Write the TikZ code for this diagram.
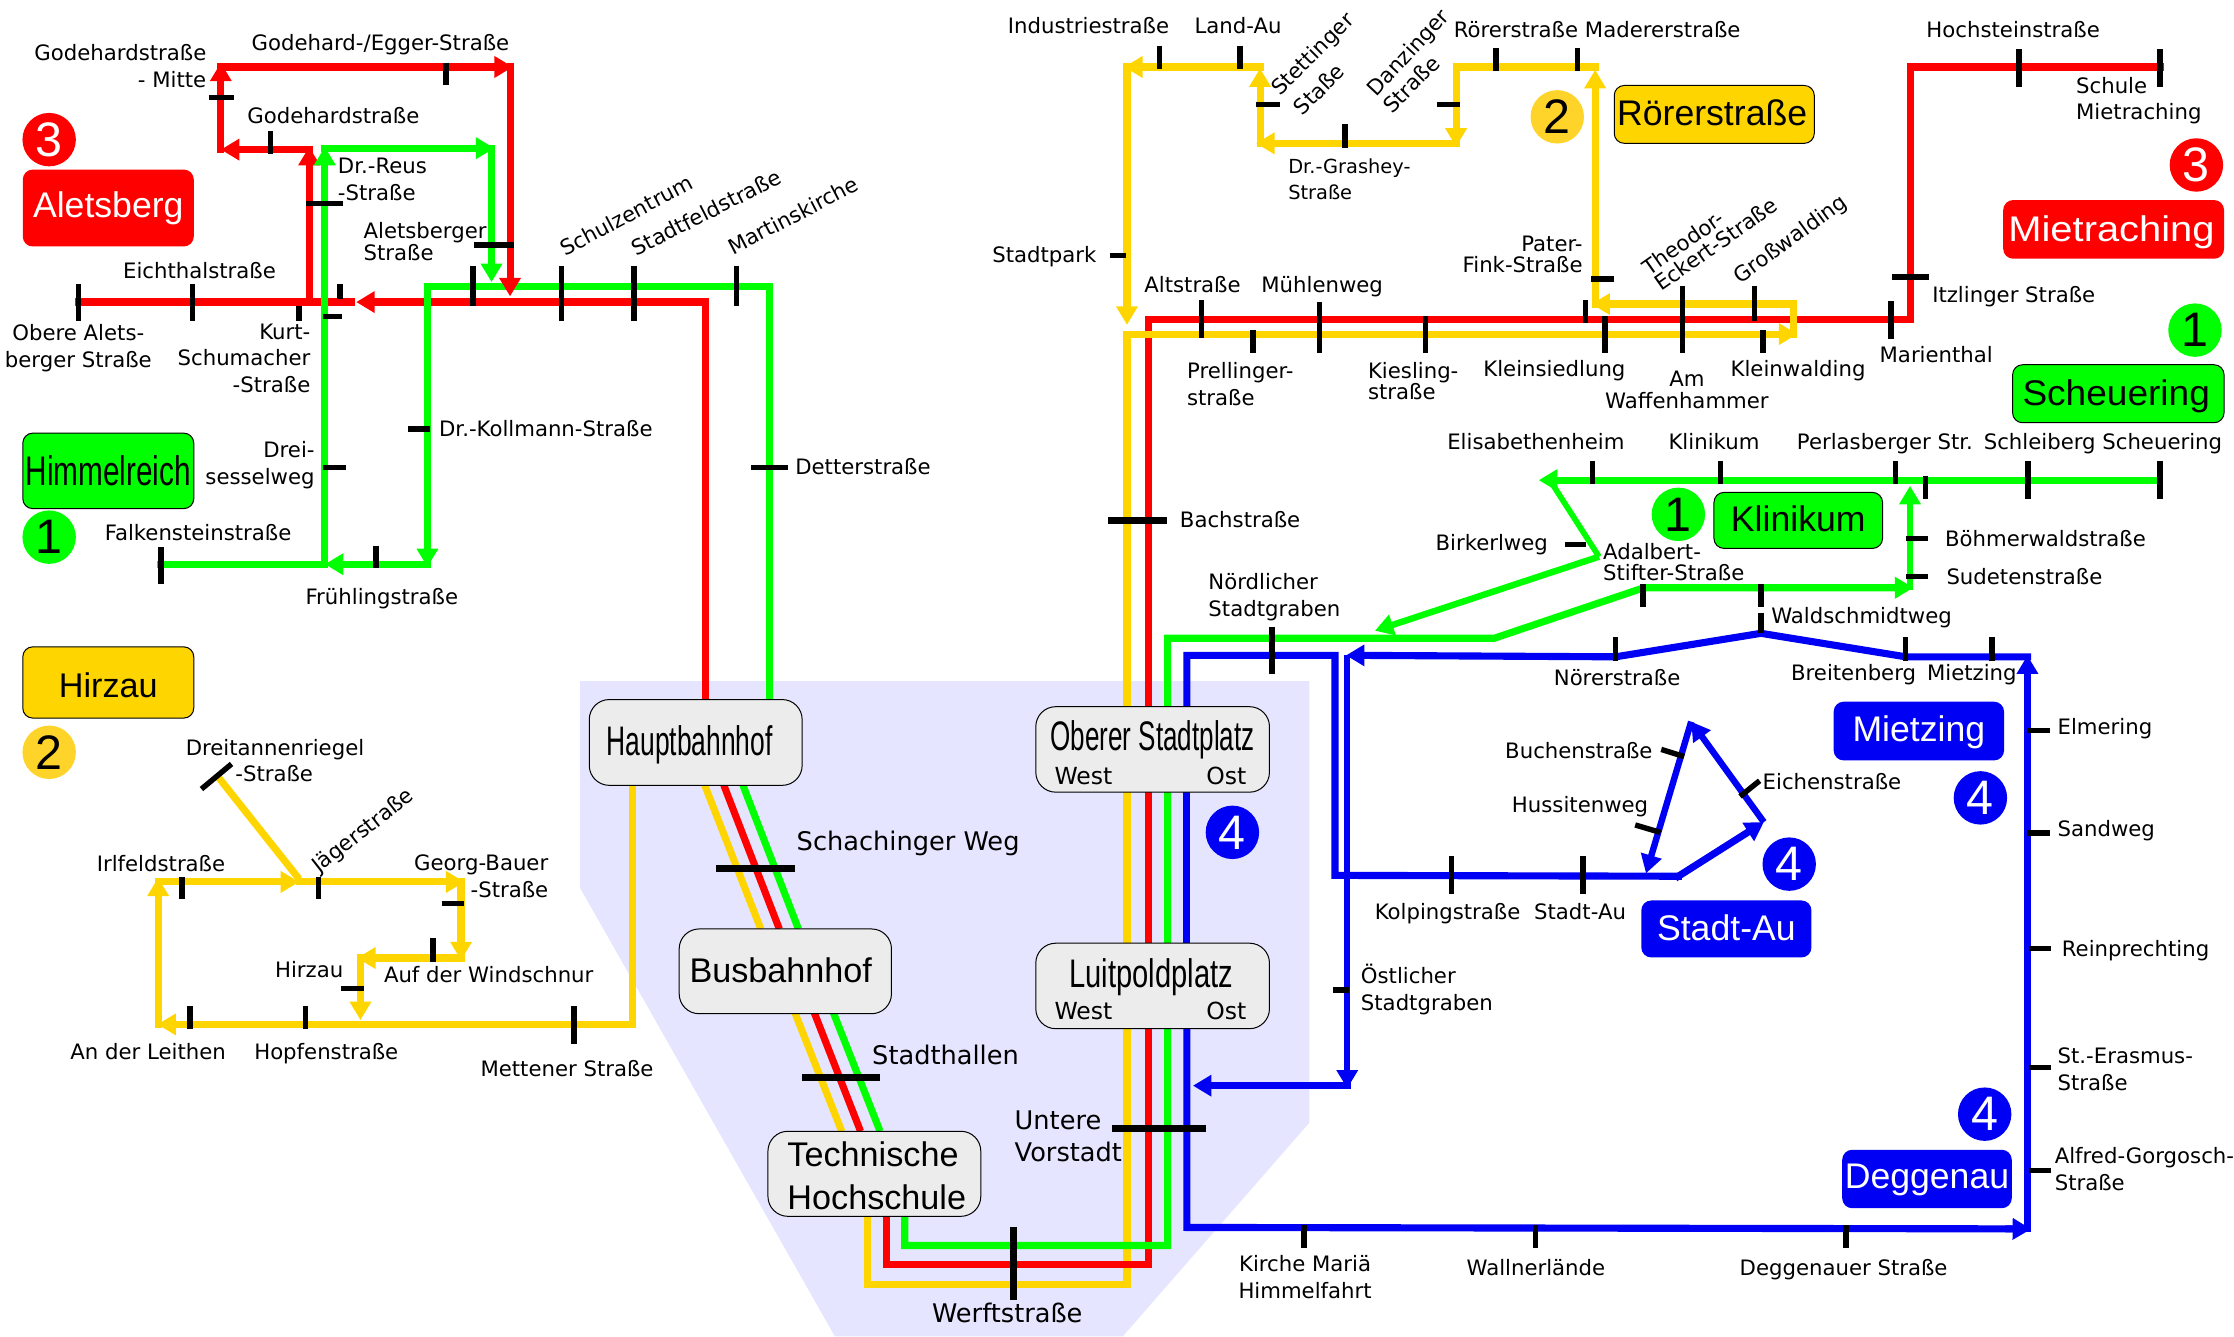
\documentclass[tikz,border=0pt]{standalone}
\usepackage{fontspec}
\usepackage{graphicx}
\setmainfont{DejaVu Sans}
\newfontfamily\boxf{Liberation Sans}
\usetikzlibrary{arrows.meta}
\definecolor{lred}{HTML}{FF0000}
\definecolor{lgreen}{HTML}{00FF00}
\definecolor{lyellow}{HTML}{FFD500}
\definecolor{lblue}{HTML}{0000F5}
\definecolor{cyellow}{HTML}{FFD42A}
\definecolor{lav}{HTML}{E5E5FF}
\definecolor{stat}{HTML}{ECECEC}
\newcommand{\fs}[1]{\fontsize{#1}{#1}\selectfont}
\newcommand{\bl}[2]{\raisebox{-#1pt}[0pt][0pt]{#2}}
\tikzset{
  rt/.style={line width=5pt,line cap=rect,line join=miter},
  ah/.style={-{Triangle[length=13pt,width=14.5pt]}},
  tk/.style={line width=3.8pt,black},
  tkb/.style={line width=4.5pt,black},
  lbl/.style={font=\fontsize{14.9}{18.6}\selectfont,inner sep=0pt,anchor=mid,text=black,yshift=-2.6pt},
  lbll/.style={lbl,anchor=mid west},
  lblr/.style={lbl,anchor=mid east},
  ml/.style={font=\fontsize{14.9}{18.6}\selectfont,inner sep=0pt,align=left,anchor=west},
  mr/.style={font=\fontsize{14.9}{18.6}\selectfont,inner sep=0pt,align=right,anchor=east},
  mc/.style={font=\fontsize{14.9}{18.6}\selectfont,inner sep=0pt,align=center,anchor=center},
  tight/.style={font=\fontsize{14.9}{15.2}\selectfont},
  bxs/.style={rectangle,rounded corners=7pt,inner sep=0pt,line width=.7pt,font=\boxf\fs{25}},
  sts/.style={bxs,rounded corners=14pt,draw=black,fill=stat},
  num/.style={circle,minimum size=37.5pt,inner sep=0pt,font=\boxf\fs{34}},
  big/.style={font=\fontsize{18}{23}\selectfont,inner sep=0pt,anchor=mid west,yshift=-3.5pt},
  wo/.style={font=\fontsize{16.5}{23}\selectfont,inner sep=0pt,anchor=mid west,yshift=-3pt},
}
\newcommand{\bxn}[7]{\pgfmathsetmacro\cxx{(#2+#4)/2}\pgfmathsetmacro\cyy{(#3+#5)/2}\pgfmathsetmacro\www{#4-#2}\pgfmathsetmacro\hhh{#5-#3}\node[bxs,#6,minimum width=\www pt,minimum height=\hhh pt] (#1) at (\cxx,\cyy) {#7};}
\begin{document}
\begin{tikzpicture}[x=1pt,y=-1pt]
\useasboundingbox (0,0) rectangle (1568,938);
\fill[lav] (407,478) -- (919,478) -- (919,788) -- (788,938) -- (586,938) -- (407,623) -- cycle;

% ---------- route 3, west
\draw[rt,lred] (495,491) -- (495,212) -- (262,212);
\draw[rt,lred,ah] (262,212) -- (250,212);
\draw[rt,lred] (55,212) -- (247,212);
\draw[rt,lred,ah] (217,212) -- (217,103);
\draw[rt,lred,ah] (217,105) -- (155,105);
\draw[rt,lred,ah] (155,105) -- (155,44);
\draw[rt,lred,ah] (155,47) -- (360,47);
% ---------- route 1, west
\draw[rt,lgreen] (540,491) -- (540,201) -- (300,201) -- (300,385);
\draw[rt,lgreen,ah] (300,380) -- (300,398);
\draw[rt,lgreen,ah] (300,396) -- (228,396);
\draw[rt,lgreen] (228,396) -- (113,396);
\draw[rt,lgreen,ah] (228,396) -- (228,103);
\draw[rt,lgreen,ah] (228,104) -- (347,104);
\draw[rt,lgreen,ah] (345,104) -- (345,198);
\draw[rt,lred,ah] (358,47) -- (358,208);
% ---------- route 2, west
\draw[rt,lyellow] (444,551) -- (444,719) -- (120,719);
\draw[rt,lyellow,ah] (125,719) -- (110.5,719);
\draw[rt,lyellow,ah] (111,719) -- (111,616);
\draw[rt,lyellow,ah] (111,619) -- (210,619);
\draw[rt,lyellow,ah] (210,619) -- (326,619);
\draw[rt,lyellow,ah] (323.6,619) -- (323.6,674);
\draw[rt,lyellow,ah] (323.6,672.4) -- (250.6,672.4);
\draw[rt,lyellow,ah] (253,672.4) -- (253,716);
\draw[line width=5pt,lyellow] (153.5,545.8) -- (210,617);
% ---------- trunk
\draw[line width=5pt,lyellow] (494.6,551) -- (534,652) (558,711) -- (590.8,794);
\draw[line width=5pt,lred] (508,551) -- (547,652) (571.6,711) -- (604,794);
\draw[line width=5pt,lgreen] (521.4,551) -- (560.4,652) (585,711) -- (617.7,794);
\draw[rt,lyellow] (608.7,850) -- (608.7,901.5) -- (791,901.5) -- (791,240);
\draw[rt,lred] (622,850) -- (622,887.7) -- (806,887.7) -- (806,224) -- (1340.7,224) -- (1340.7,47) -- (1516,47);
\draw[rt,lgreen] (635,850) -- (635,874.2) -- (819.5,874.2) -- (819.5,448) -- (1048.7,448) -- (1153.8,412.5) -- (1330,412.5);
% ---------- route 2, east
\draw[rt,lyellow,ah] (791,47) -- (791,228);
\draw[rt,lyellow] (791,234.5) -- (1245,234.5);
\draw[rt,lyellow,ah] (1245,234.5) -- (1261.5,234.5);
\draw[rt,lyellow] (1259,234.5) -- (1259,213.4) -- (1130,213.4);
\draw[rt,lyellow,ah] (1130,213.4) -- (1117,213.4);
\draw[rt,lyellow,ah] (1119.6,213.4) -- (1119.6,49);
\draw[rt,lyellow] (1119.6,47) -- (1022,47) -- (1022,90);
\draw[rt,lyellow,ah] (1022,85) -- (1022,103);
\draw[rt,lyellow,ah] (1022,100.6) -- (881.6,100.6);
\draw[rt,lyellow,ah] (884.4,100.6) -- (884.4,48);
\draw[rt,lyellow,ah] (884.4,47) -- (789,47);
% ---------- route 1, east
\draw[rt,lgreen,ah] (1515.7,337) -- (1080,337);
\draw[line width=4pt,lgreen,line join=miter] (1087.8,337) -- (1122.3,390.7);
\draw[line width=4.5pt,lgreen,ah] (1122.3,390.7) -- (965,442.7);
\draw[rt,lgreen,ah] (1330,412.5) -- (1343,412.5);
\draw[line width=4.5pt,lgreen,ah] (1340.6,414) -- (1340.6,341);
% ---------- route 4
\draw[rt,lblue] (833,720) -- (833,861.5) -- (1410,862.5);
\draw[rt,lblue,ah] (1410,862.5) -- (1425.6,862.7);
\draw[rt,lblue,ah] (1423,862) -- (1423,460);
\draw[rt,lblue,line join=miter] (1423,461) -- (1337.6,461) -- (1236,444.5) -- (1134,461) -- (957,460);
\draw[rt,lblue,ah] (957,460) -- (944.7,460);
\draw[line width=4.5pt,lblue] (945.6,460) -- (945.6,755);
\draw[line width=4.5pt,lblue,ah] (945.6,750) -- (945.6,764);
\draw[rt,lblue,ah] (945.6,762) -- (837.3,762);
\draw[rt,lblue] (833,496) -- (833,460) -- (937,460) -- (937,614.4) -- (1178,615);
\draw[rt,lblue,ah] (1178,615) -- (1238,577);
\draw[line width=4.5pt,lblue,ah] (1238,577) -- (1187,506.5);
\draw[line width=4.5pt,lblue,ah] (1187,506.5) -- (1155.3,613);
\draw[rt,lblue] (833,555) -- (833,665);

% ---------- ticks, west
\draw[tk] (313,44) -- (313,60);
\draw[tk] (147,68.6) -- (164,68.6);
\draw[tk] (190,92) -- (190,108);
\draw[tk] (215,143) -- (241,143);
\draw[tk] (333,172) -- (361,172);
\draw[tk] (332,187) -- (332,215);
\draw[tk] (394,187) -- (394,225);
\draw[tk] (445,187) -- (445,225);
\draw[tk] (517,187) -- (517,215);
\draw[tk] (55,199) -- (55,225);
\draw[tk] (135,199) -- (135,225);
\draw[tk] (210,214.6) -- (210,225);
\draw[tk] (238.5,199) -- (238.5,210);
\draw[tk] (227,222) -- (240,222);
\draw[tk] (227,328) -- (243,328);
\draw[tk] (286.5,301) -- (302,301);
\draw[tk] (527,328) -- (553,328);
\draw[tk] (264,383) -- (264,399);
\draw[tk] (113,384) -- (113,410);
% yellow west
\draw[tk] (141.4,553.8) -- (162.5,536.2);
\draw[tk] (127.6,615.6) -- (127.6,631.3);
\draw[tk] (223.4,615.6) -- (223.4,631.3);
\draw[tk] (310,634) -- (326,634);
\draw[tk] (304,658.6) -- (304,675);
\draw[tk] (239.5,694) -- (255.6,694);
\draw[tk] (133.4,706) -- (133.4,722);
\draw[tk] (214.4,706) -- (214.4,722);
\draw[tk] (402.8,706) -- (402.8,733);
% trunk
\draw[tkb] (502.6,609.6) -- (558,609.6);
\draw[tkb] (563,756.3) -- (617.7,756.3);
\draw[tkb] (711.4,861) -- (711.4,912.5);
\draw[tkb] (780.4,792.2) -- (846.6,792.2);
\draw[tkb] (778,365.2) -- (819,365.2);
\draw[tk] (892.9,440) -- (892.9,473.3);
% yellow/red east
\draw[tk] (813.7,32) -- (813.7,48.4);
\draw[tk] (870.4,32) -- (870.4,48.4);
\draw[tk] (881.6,73.2) -- (898.4,73.2);
\draw[tk] (1008.5,73.2) -- (1024.8,73.2);
\draw[tk] (944,87.3) -- (944,103.7);
\draw[tk] (1050,33.5) -- (1050,49.6);
\draw[tk] (1107.3,33.5) -- (1107.3,49.6);
\draw[tk] (1417,34.6) -- (1417,61.3);
\draw[tk] (1516,34.6) -- (1516,61.3);
\draw[tk] (1117,195.9) -- (1133,195.9);
\draw[tk] (1328,194.5) -- (1354,194.5);
\draw[tk] (779,179.5) -- (790,179.5);
\draw[tk] (843.5,210.6) -- (843.5,237);
\draw[tk] (926,211.8) -- (926,247.6);
\draw[tk] (879.4,231.7) -- (879.4,247.6);
\draw[tk] (1000.6,221.8) -- (1000.6,247.6);
\draw[tk] (1113,210.6) -- (1113,226.5);
\draw[tk] (1126.4,221.8) -- (1126.4,247.6);
\draw[tk] (1180.8,200.5) -- (1180.8,247.6);
\draw[tk] (1231.3,200.5) -- (1231.3,225.3);
\draw[tk] (1237.5,231.7) -- (1237.5,247.6);
\draw[tk] (1327.3,211.3) -- (1327.3,238);
% green east
\draw[tk] (1117.8,323.6) -- (1117.8,339.7);
\draw[tk] (1207.6,323.6) -- (1207.6,339.7);
\draw[tk] (1330.5,323.6) -- (1330.5,339.7);
\draw[tk] (1423.3,323.6) -- (1423.3,350.5);
\draw[tk] (1516,323.6) -- (1516,350.5);
\draw[tk] (1351.3,334) -- (1351.3,350.5);
\draw[tk] (1098.5,382.3) -- (1113,382.3);
\draw[tk] (1153.3,410) -- (1153.3,425.8);
\draw[tk] (1338,377.9) -- (1353,377.9);
\draw[tk] (1338,404.8) -- (1353,404.8);
\draw[tk] (1236,410) -- (1236,425.8);
\draw[tk] (1236,430) -- (1236,444.5);
% blue
\draw[tk] (1134,447.4) -- (1134,463.8);
\draw[tk] (1337.6,447.4) -- (1337.6,463.8);
\draw[tk] (1398,447.4) -- (1398,463.8);
\draw[tk] (1166,526) -- (1182,531);
\draw[tk] (1147.7,579) -- (1165.5,584.3);
\draw[tk] (1221.3,559) -- (1235,548);
\draw[tk] (1018.8,600.9) -- (1018.8,627.6);
\draw[tk] (1111.2,600.9) -- (1111.2,627.6);
\draw[tk] (1422.8,512.9) -- (1438.6,512.9);
\draw[tk] (1422.8,584.7) -- (1438.6,584.7);
\draw[tk] (1424,665.9) -- (1439.4,665.9);
\draw[tk] (1424,749.4) -- (1439.4,749.4);
\draw[tk] (1424,821.5) -- (1439.4,821.5);
\draw[tk] (935.7,694.9) -- (946.6,694.9);
\draw[tk] (915.2,859.9) -- (915.2,875.8);
\draw[tk] (1077.6,859.9) -- (1077.6,875.8);
\draw[tk] (1295.7,859.9) -- (1295.7,875.8);

% ---------- area boxes and numbers
\bxn{aletsberg}{16}{119}{136}{173}{fill=lred,text=white}{\bl{6.7}{Aletsberg}}
\bxn{himmelreich}{16}{304}{136}{357}{fill=lgreen,draw=black}{\scalebox{.72}[1]{\fs{29}Himmelreich}}
\bxn{hirzau}{16}{454}{136}{504}{fill=lyellow,draw=black,font=\boxf\fs{24}}{\bl{10.7}{Hirzau}}
\bxn{roerer}{1133}{60}{1273.4}{100.6}{fill=lyellow,draw=black}{\bl{7.5}{\hspace{-3pt}Rörerstraße}}
\bxn{mietraching}{1406}{140.4}{1561}{181.6}{fill=lred,text=white}{\bl{8.7}{\hspace{-3pt}\scalebox{1.12}[1]{Mietraching}}}
\bxn{scheuering}{1412.6}{256}{1561}{296.7}{fill=lgreen,draw=black}{\bl{8}{\hspace{-3pt}\scalebox{1.04}[1]{Scheuering}}}
\bxn{klinikum}{1203}{345.6}{1321.3}{384.9}{fill=lgreen,draw=black}{\bl{8}{Klinikum}}
\bxn{mietzing}{1287}{492.5}{1406.6}{533.7}{fill=lblue,text=white}{\bl{7}{Mietzing}}
\bxn{stadtau}{1152}{632}{1271.4}{672}{fill=lblue,text=white}{\bl{8.2}{Stadt-Au}}
\bxn{deggenau}{1293}{807}{1412}{848}{fill=lblue,text=white}{\bl{6.5}{Deggenau}}
\node[num,fill=lred,text=white] (n3a) at (34.5,98) {3};
\node[num,fill=lgreen,text=black] (n1a) at (34.5,377) {1};
\node[num,fill=cyellow,text=black] (n2a) at (34.5,528) {2};
\node[num,fill=cyellow,text=black] (n2b) at (1093,82) {2};
\node[num,fill=lred,text=white] (n3b) at (1541.6,115.8) {3};
\node[num,fill=lgreen,text=black] (n1b) at (1540.6,231.7) {1};
\node[num,fill=lgreen,text=black] (n1c) at (1178,361) {1};
\node[num,fill=lblue,text=white] (n4a) at (865,584.2) {4};
\node[num,fill=lblue,text=white] (n4b) at (1390,560) {4};
\node[num,fill=lblue,text=white] (n4c) at (1255.8,606.5) {4};
\node[num,fill=lblue,text=white] (n4d) at (1393,782) {4};

% ---------- station boxes
\bxn{hbf}{413.6}{491}{563}{551.2}{sts}{}
\node[font=\boxf,inner sep=0pt] (hbft) at (484,523) {\scalebox{.64}[1]{\fs{29}Hauptbahnhof}};
\bxn{busbf}{476.7}{652}{625.7}{711.5}{sts,font=\boxf\fs{24}}{}
\node[font=\boxf\fs{24},inner sep=0pt] (busbt) at (548,681) {Busbahnhof};
\bxn{ths}{539}{794}{688.4}{853.7}{sts}{}
\node[font=\boxf\fs{24},inner sep=0pt,align=left,anchor=west] (thst) at (552.5,825) {Technische\\[6pt]Hochschule};
\bxn{oberer}{727}{496}{891}{556}{sts}{}
\node[font=\boxf,inner sep=0pt] (obt) at (809,519) {\scalebox{.63}[1]{\fs{29}Oberer Stadtplatz}};
\node[wo] (obw) at (740,545) {West};
\node[wo,anchor=mid east] (obo) at (875,545) {Ost};
\bxn{luitpold}{727}{662}{891}{722}{sts}{}
\node[font=\boxf,inner sep=0pt] (lut) at (808,686) {\scalebox{.73}[1]{\fs{28}Luitpoldplatz}};
\node[wo] (luw) at (740,710) {West};
\node[wo,anchor=mid east] (luo) at (875,710) {Ost};

% ---------- labels, west
\node[mr,anchor=east] (t1) at (145,46.5) {Godehardstraße\\- Mitte};
\node[lbl] (t2) at (267,30) {Godehard-/Egger-Straße};
\node[lbl] (t3) at (234,81) {Godehardstraße};
\node[ml] (t4) at (237,126) {Dr.-Reus\\-Straße};
\node[ml,tight] (t5) at (255,169.5) {Aletsberger\\Straße};
\node[lbl,rotate=28] (t6) at (441,151) {Schulzentrum};
\node[lbl,rotate=27] (t7) at (497,149) {Stadtfeldstraße};
\node[lbl,rotate=27.5] (t8) at (558,151) {Martinskirche};
\node[lbl] (t9) at (140,190) {Eichthalstraße};
\node[mc] (t10) at (55,244.5) {Obere Alets-\\berger Straße};
\node[mr] (t11) at (218,251.5) {Kurt-\\Schumacher\\-Straße};
\node[mr] (t12) at (221,326.5) {Drei-\\sesselweg};
\node[lbl] (t13) at (139,374) {Falkensteinstraße};
\node[lbl] (t14) at (268,419) {Frühlingstraße};
\node[lbll] (t15) at (308,301) {Dr.-Kollmann-Straße};
\node[lbll] (t16) at (558,328) {Detterstraße};
\node[lbl] (t17) at (193,525) {Dreitannenriegel};
\node[lbll] (t18) at (165,543) {-Straße};
\node[lbl,rotate=38] (t19) at (256,582) {Jägerstraße};
\node[lbl] (t20) at (113,606) {Irlfeldstraße};
\node[mr] (t21) at (385,615) {Georg-Bauer\\-Straße};
\node[lbl] (t22) at (217,681) {Hirzau};
\node[lbl] (t23) at (343,684) {Auf der Windschnur};
\node[lbl] (t24) at (104,738) {An der Leithen};
\node[lbl] (t25) at (229,738) {Hopfenstraße};
\node[lbl] (t26) at (398,750) {Mettener Straße};
% trunk
\node[big] (t27) at (559,591) {Schachinger Weg};
\node[big] (t28) at (612,741) {Stadthallen};
\node[big,anchor=mid] (t29) at (707,922) {Werftstraße};
\node[big,anchor=west,align=left,yshift=2.5pt] (t30) at (712,796.5) {Untere\\Vorstadt};
\node[lbll] (t31) at (828,365) {Bachstraße};
% labels, north east
\node[lbl] (t32) at (764,18) {Industriestraße};
\node[lbl] (t33) at (869,18) {Land-Au};
\node[lbl,rotate=45] (t34) at (923,37) {Stettinger};
\node[lbl,rotate=45] (t35) at (927.6,62) {Staße};
\node[lbl,rotate=47] (t36) at (990,36) {Danzinger};
\node[lbl,rotate=45] (t37) at (992.5,58.5) {Straße};
\node[lbl] (t38) at (1064,21) {Rörerstraße};
\node[lbl] (t39) at (1167,21) {Madererstraße};
\node[lbl] (t40) at (1413,21) {Hochsteinstraße};
\node[ml] (t41) at (1457,70.5) {Schule\\Mietraching};
\node[ml,font=\fontsize{13.6}{18.6}\selectfont] (t42) at (904,126) {Dr.-Grashey-\\Straße};
\node[lbl] (t43) at (733,179) {Stadtpark};
\node[lbl] (t44) at (837,200) {Altstraße};
\node[lbl] (t45) at (928,200) {Mühlenweg};
\node[ml] (t46) at (833,269.5) {Prellinger-\\straße};
\node[ml,tight] (t47) at (960,267.5) {Kiesling-\\straße};
\node[lbl] (t48) at (1091,259) {Kleinsiedlung};
\node[mc,tight] (t49) at (1184,273.5) {Am\\Waffenhammer};
\node[lbl] (t50) at (1262,259) {Kleinwalding};
\node[lbl] (t51) at (1359,249) {Marienthal};
\node[lbll] (t52) at (1356,207) {Itzlinger Straße};
\node[mr,tight] (t53) at (1111,178.5) {Pater-\\Fink-Straße};
\node[lbl,rotate=35] (t54) at (1183,170) {Theodor-};
\node[lbl,rotate=35] (t55) at (1206,171) {Eckert-Straße};
\node[lbl,rotate=36] (t56) at (1258,167) {Großwalding};
% labels, green east
\node[lbl] (t57) at (1078,310) {Elisabethenheim};
\node[lbl] (t58) at (1203,310) {Klinikum};
\node[lbl] (t59) at (1323,310) {Perlasberger Str.};
\node[lbl] (t60) at (1476,310) {Schleiberg Scheuering};
\node[lbl] (t61) at (1047,381) {Birkerlweg};
\node[ml,tight] (t62) at (1125,394.5) {Adalbert-\\Stifter-Straße};
\node[lbll] (t63) at (1365,378) {Böhmerwaldstraße};
\node[lbll] (t64) at (1366,405) {Sudetenstraße};
\node[lbll] (t65) at (1243,432) {Waldschmidtweg};
\node[ml] (t66) at (848,419) {Nördlicher\\Stadtgraben};
% labels, blue
\node[lbl] (t67) at (1135,476) {Nörerstraße};
\node[lbl] (t68) at (1301,472) {Breitenberg};
\node[lbl] (t69) at (1384,472) {Mietzing};
\node[lblr] (t70) at (1160,527) {Buchenstraße};
\node[lbll] (t71) at (1237,549) {Eichenstraße};
\node[lblr] (t72) at (1157,565) {Hussitenweg};
\node[lbl] (t73) at (1016,640) {Kolpingstraße};
\node[lbl] (t74) at (1109,640) {Stadt-Au};
\node[ml] (t75) at (955,694.5) {Östlicher\\Stadtgraben};
\node[lbll] (t76) at (1444,510) {Elmering};
\node[lbll] (t77) at (1444,582) {Sandweg};
\node[lbll] (t78) at (1447,666) {Reinprechting};
\node[ml] (t79) at (1444,750.5) {St.-Erasmus-\\Straße};
\node[ml] (t80) at (1442,820.5) {Alfred-Gorgosch-\\Straße};
\node[mc] (t81) at (916,896.5) {Kirche Mariä\\Himmelfahrt};
\node[lbl] (t82) at (1078,890) {Wallnerlände};
\node[lbl] (t83) at (1294,890) {Deggenauer Straße};
\end{tikzpicture}
\end{document}
